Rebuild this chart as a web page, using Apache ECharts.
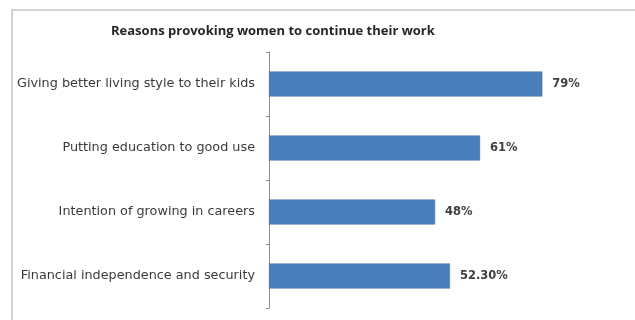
<!DOCTYPE html>
<html>
<head>
<meta charset="utf-8">
<script src="https://cdn.jsdelivr.net/npm/echarts@6/dist/echarts.min.js"></script>
<style>
  html, body { margin: 0; padding: 0; background: #fff; }
  #chart { width: 635px; height: 320px; }
</style>
</head>
<body>
<div id="chart"></div>
<script>
// data
const reasons = [
  'Giving better living style to their kids',
  'Putting education to good use',
  'Intention of growing in careers',
  'Financial independence and security'
]
const shares = [79, 61, 48, 52.3]
const shareLabels = ['79%', '61%', '48%', '52.30%']

const chart = echarts.init(document.getElementById('chart'))
const option = {
  animation: false,
  backgroundColor: '#fff',
  title: {
    text: 'Reasons provoking women to continue their work',
    left: 106,
    top: 20,
    textStyle: {
      fontFamily: 'Open Sans',
      fontSize: 13,
      fontWeight: 'bold',
      color: '#262626'
    }
  },
  graphic: [{
    type: 'rect',
    shape: { x: 12, y: 10, width: 660, height: 340 },
    style: { fill: 'none', stroke: '#c4c4c4', lineWidth: 1.5 },
    silent: true
  }],
  grid: {
    left: 269,
    right: 20,
    top: 52,
    bottom: 12
  },
  xAxis: {
    type: 'value',
    min: 0,
    max: 100,
    show: false
  },
  yAxis: {
    type: 'category',
    data: reasons,
    inverse: true,
    axisLine: { show: true, lineStyle: { color: '#8c8c8c', width: 1 } },
    axisTick: { show: true, length: 3, alignWithLabel: false, lineStyle: { color: '#8c8c8c' } },
    axisLabel: {
      margin: 14,
      fontFamily: 'DejaVu Sans',
      fontSize: 12.8,
      color: '#3a3a3a'
    },
    splitLine: { show: false }
  },
  series: [{
    type: 'bar',
    data: shares,
    barWidth: 25,
    itemStyle: { color: '#4a7ebb', borderColor: '#3f6fa8', borderWidth: 0.5 },
    label: {
      show: true,
      position: 'right',
      distance: 10,
      fontFamily: 'DejaVu Sans',
      fontSize: 11.5,
      fontWeight: 'bold',
      color: '#404040',
      formatter: p => shareLabels[p.dataIndex]
    }
  }]
}
chart.setOption(option)
</script>
</body>
</html>
